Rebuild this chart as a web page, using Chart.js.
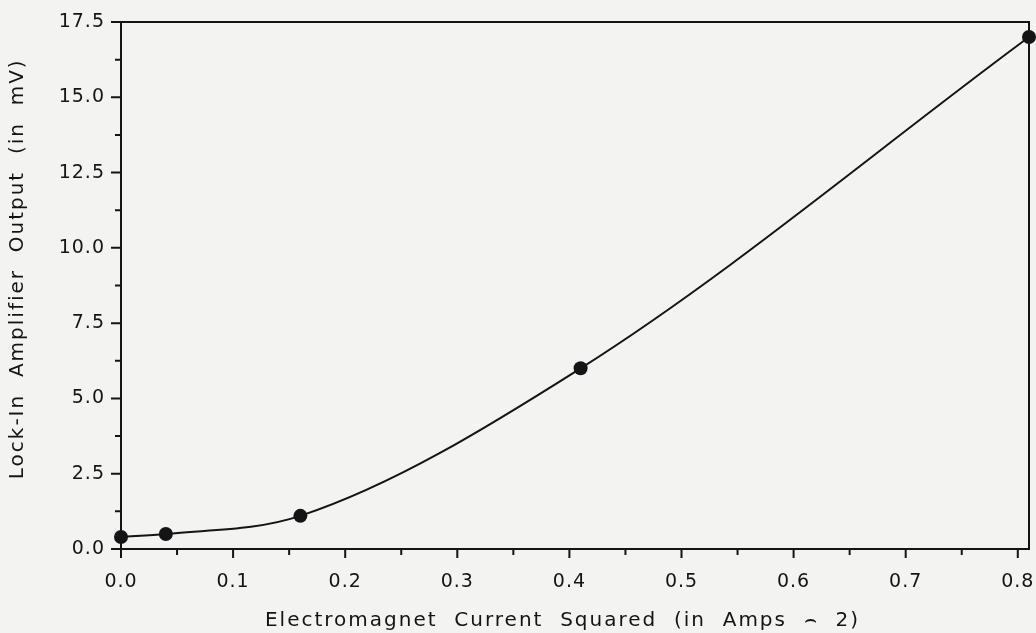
<!DOCTYPE html>
<html>
<head>
<meta charset="utf-8">
<script src="https://cdn.jsdelivr.net/npm/chart.js@4"></script>
<style>
  html, body { margin: 0; padding: 0; background: #f3f3f1; }
  #wrap { width: 1036px; height: 633px; }
</style>
</head>
<body>
<div id="wrap"><canvas id="c" width="1036" height="633"></canvas></div>
<script>
// ---- data ----
const currentSquared = [0.0, 0.04, 0.16, 0.41, 0.81];
const lockInOutput   = [0.4, 0.5, 1.1, 6.0, 17.0];

const xMajorTicks = [0.0, 0.1, 0.2, 0.3, 0.4, 0.5, 0.6, 0.7, 0.8];
const xTickLabels = ['0.0', '0.1', '0.2', '0.3', '0.4', '0.5', '0.6', '0.7', '0.8'];
const xMinorTicks = [0.05, 0.15, 0.25, 0.35, 0.45, 0.55, 0.65, 0.75];

const yMajorTicks = [0.0, 2.5, 5.0, 7.5, 10.0, 12.5, 15.0, 17.5];
const yTickLabels = ['0.0', '2.5', '5.0', '7.5', '10.0', '12.5', '15.0', '17.5'];
const yMinorTicks = [1.25, 3.75, 6.25, 8.75, 11.25, 13.75, 16.25];

const xTitle = 'Electromagnet  Current  Squared  (in  Amps  \u2322  2)   ';
const yTitle = '    Lock-In  Amplifier  Output  (in  mV)';

const INK = '#141414';
const FONT = "'DejaVu Sans', sans-serif";

// wider letter spacing for axis titles, a little for tick labels
function spaceTitle(s) {
  if (s._titleWrapped) return;
  const orig = s.drawTitle;
  s.drawTitle = function () {
    const ctx = this.ctx;
    ctx.letterSpacing = '2px';
    orig.apply(this, arguments);
    ctx.letterSpacing = '1px';
  };
  s._titleWrapped = true;
}

const paperAndFrame = {
  id: 'paperAndFrame',
  beforeDraw(chart) {
    const ctx = chart.ctx;
    ctx.fillStyle = '#f3f3f1';
    ctx.fillRect(0, 0, chart.width, chart.height);
    ctx.letterSpacing = '1px';
  },
  afterDraw(chart) {
    const ctx = chart.ctx;
    const a = chart.chartArea;
    const xs = chart.scales.x, ys = chart.scales.y;
    ctx.save();
    ctx.strokeStyle = INK;
    ctx.lineWidth = 2;
    ctx.lineCap = 'butt';
    ctx.beginPath();
    // top and right frame
    ctx.moveTo(a.left - 1, a.top);
    ctx.lineTo(a.right, a.top);
    ctx.lineTo(a.right, a.bottom + 1);
    // x ticks
    xMajorTicks.forEach(v => { const p = xs.getPixelForValue(v); ctx.moveTo(p, a.bottom); ctx.lineTo(p, a.bottom + 9); });
    xMinorTicks.forEach(v => { const p = xs.getPixelForValue(v); ctx.moveTo(p, a.bottom); ctx.lineTo(p, a.bottom + 6); });
    // y ticks
    yMajorTicks.forEach(v => { const p = ys.getPixelForValue(v); ctx.moveTo(a.left, p); ctx.lineTo(a.left - 10, p); });
    yMinorTicks.forEach(v => { const p = ys.getPixelForValue(v); ctx.moveTo(a.left, p); ctx.lineTo(a.left - 6, p); });
    ctx.stroke();
    ctx.restore();
  }
};

new Chart(document.getElementById('c'), {
  type: 'scatter',
  data: {
    datasets: [{
      data: currentSquared.map((x, i) => ({ x: x, y: lockInOutput[i] })),
      showLine: true,
      cubicInterpolationMode: 'monotone',
      borderColor: INK,
      borderWidth: 2,
      backgroundColor: INK,
      pointBackgroundColor: INK,
      pointBorderColor: INK,
      pointRadius: 7,
      pointBorderWidth: 0,
      clip: false
    }]
  },
  options: {
    responsive: false,
    animation: false,
    devicePixelRatio: 1,
    layout: { padding: { left: 0, top: 22, right: 6, bottom: 0 } },
    plugins: { legend: { display: false }, tooltip: { enabled: false } },
    scales: {
      x: {
        type: 'linear',
        min: 0,
        max: 0.81,
        afterFit(s) { s.height = 84; s.paddingLeft = 0; s.paddingRight = 0; spaceTitle(s); },
        afterBuildTicks(s) { s.ticks = xMajorTicks.map(v => ({ value: v })); },
        grid: { display: false, drawTicks: false },
        border: { display: true, color: INK, width: 2 },
        ticks: {
          padding: 22,
          color: INK,
          font: { family: FONT, size: 19 },
          maxRotation: 0,
          autoSkip: false,
          callback: (v, i) => xTickLabels[i]
        },
        title: {
          display: true,
          text: xTitle,
          color: INK,
          font: { family: FONT, size: 20 },
          padding: { top: 0, bottom: 0 }
        }
      },
      y: {
        type: 'linear',
        min: 0,
        max: 17.5,
        afterFit(s) { s.width = 121; s.paddingTop = 0; s.paddingBottom = 0; spaceTitle(s); },
        afterBuildTicks(s) { s.ticks = yMajorTicks.map(v => ({ value: v })); },
        grid: { display: false, drawTicks: false },
        border: { display: true, color: INK, width: 2 },
        ticks: {
          padding: 16,
          color: INK,
          font: { family: FONT, size: 19 },
          autoSkip: false,
          callback: (v, i) => yTickLabels[i]
        },
        title: {
          display: true,
          text: yTitle,
          color: INK,
          font: { family: FONT, size: 20 },
          padding: { top: 6, bottom: 0 }
        }
      }
    }
  },
  plugins: [paperAndFrame]
});
</script>
</body>
</html>
